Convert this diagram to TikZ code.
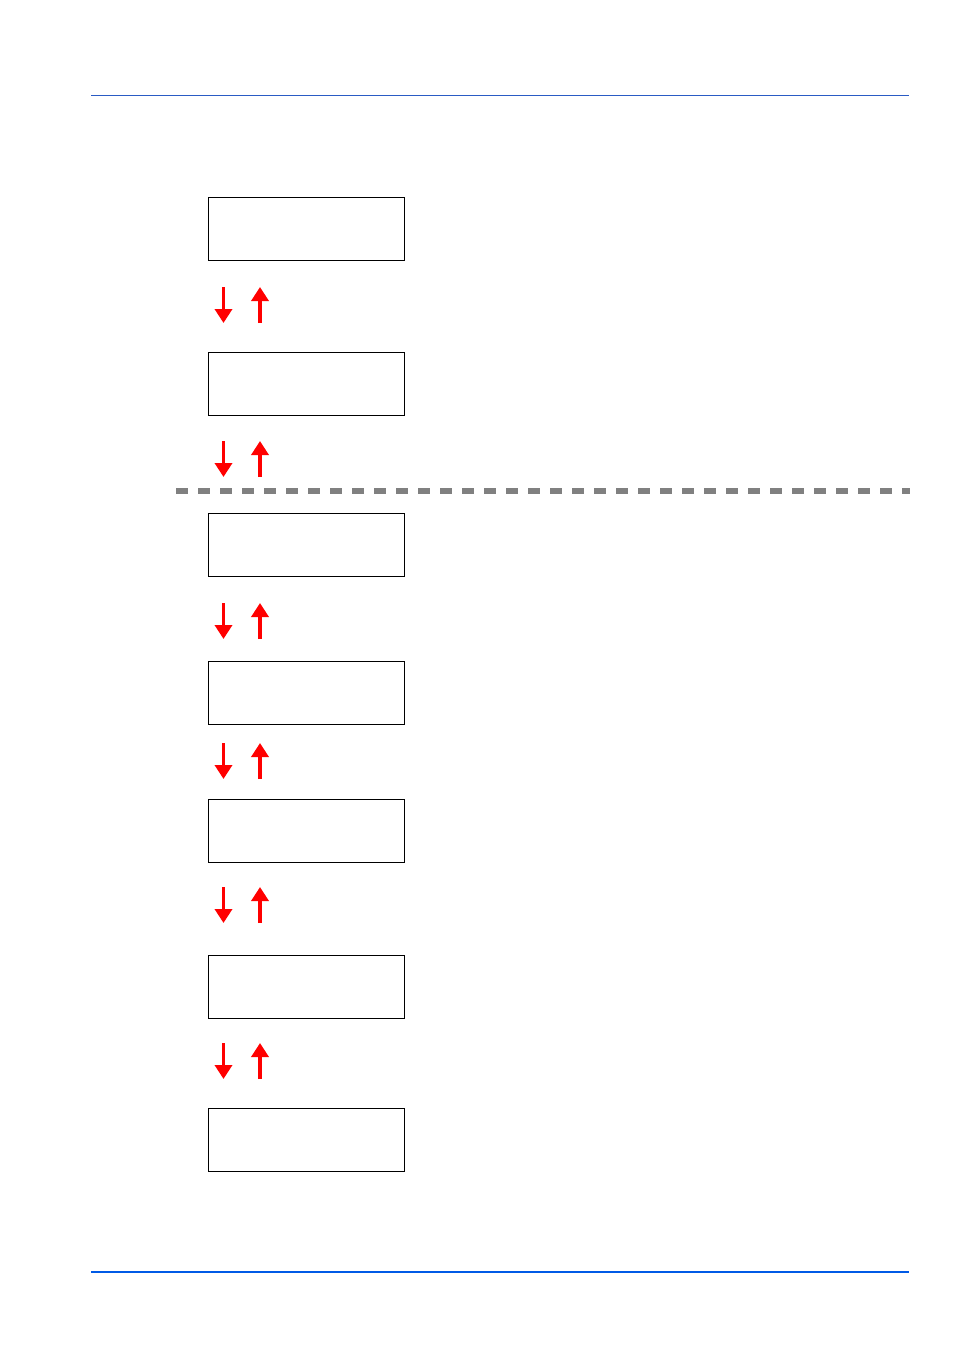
\documentclass[tikz,border=0pt]{standalone}
\usetikzlibrary{arrows.meta}
\definecolor{topblue}{HTML}{2A5BC4}
\definecolor{botblue}{HTML}{005AE6}
\definecolor{dashgray}{HTML}{808080}
\begin{document}
\begin{tikzpicture}[x=1pt,y=-1pt,
  box/.style={draw=black,line width=0.9pt,minimum width=196pt,minimum height=63pt,inner sep=0pt,anchor=north west},
  redarrow/.style={draw=red,line width=3.6pt,-{Triangle[width=17pt,length=14pt]}}]
\useasboundingbox (0,0) rectangle (954,1350);
\draw[topblue,line width=0.8pt] (91,95) -- (909,95);
\draw[botblue,line width=2pt] (91,1272) -- (909,1272);
\draw[dashgray,line width=6pt,dash pattern=on 12pt off 10pt] (176,491) -- (910,491);
\node[box] (b1) at (208,197) {};
\node[box] (b2) at (208,351.5) {};
\node[box] (b3) at (208,513) {};
\node[box] (b4) at (208,660.5) {};
\node[box] (b5) at (208,799) {};
\node[box] (b6) at (208,954.5) {};
\node[box] (b7) at (208,1108) {};
\foreach \i/\y in {1/287,2/441,3/603,4/743,5/887,6/1043}{
  \coordinate (d\i s) at (223.5,\y);
  \coordinate (d\i e) at (223.5,\y+36);
  \coordinate (u\i s) at (260,\y+36);
  \coordinate (u\i e) at (260,\y);
  \draw[redarrow] (d\i s) -- (d\i e);
  \draw[redarrow] (u\i s) -- (u\i e);
}
\end{tikzpicture}
\end{document}
